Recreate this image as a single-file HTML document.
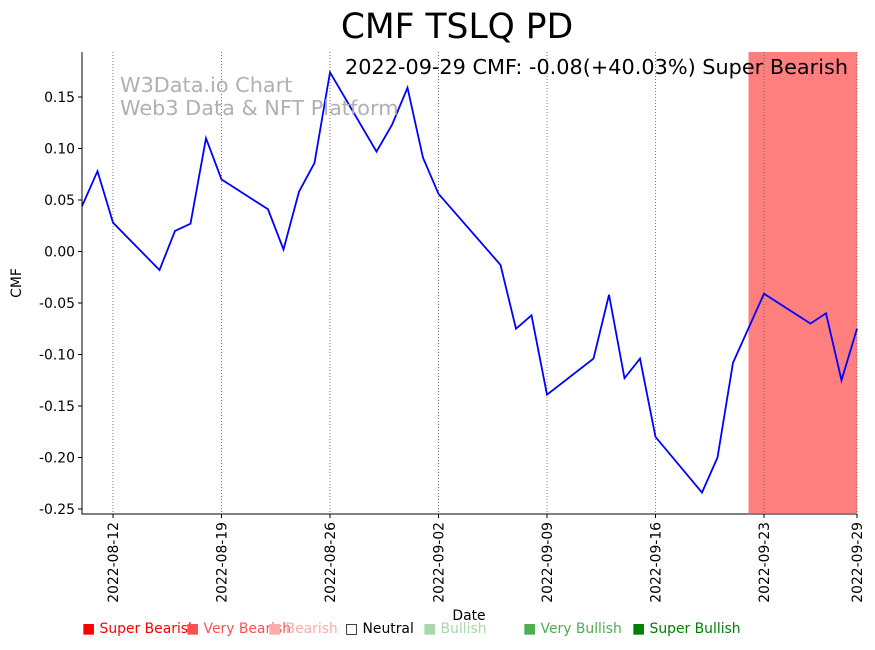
<!DOCTYPE html>
<html><head><meta charset="utf-8"><style>
body{margin:0;background:#fff;font-family:"DejaVu Sans",sans-serif}
svg text{font-family:"DejaVu Sans",sans-serif}
</style></head><body>
<svg id="chart" width="875" height="646" viewBox="0 0 875 646" xmlns="http://www.w3.org/2000/svg">
<text x="457" y="38" font-size="34.5" text-anchor="middle">CMF TSLQ PD</text>
<g id="plot"></g>
<text x="120" y="92" font-size="20.8" fill="#b0b0b0">W3Data.io Chart</text>
<text x="120" y="115" font-size="20.8" fill="#b0b0b0">Web3 Data &amp; NFT Platform</text>
<text x="848" y="74" font-size="20.8" text-anchor="end">2022-09-29 CMF: -0.08(+40.03%) Super Bearish</text>
<text x="21" y="283" font-size="13.9" text-anchor="middle" transform="rotate(-90 21 283)">CMF</text>
<text x="469" y="620" font-size="13.9" text-anchor="middle">Date</text>
<g font-size="13.9">
<text x="82" y="633" fill="#ff0000">■ Super Bearish</text>
<text x="186" y="633" fill="#ff5050">■ Very Bearish</text>
<text x="268" y="633" fill="#ffaaaa">■ Bearish</text>
<text x="345" y="633" fill="#000">□ Neutral</text>
<text x="423" y="633" fill="#a8d8a8">■ Bullish</text>
<text x="523" y="633" fill="#4caf50">■ Very Bullish</text>
<text x="632" y="633" fill="#008000">■ Super Bullish</text>
</g>
</svg>
<script>
const dates=["2022-08-10","2022-08-11","2022-08-12","2022-08-15","2022-08-16","2022-08-17","2022-08-18","2022-08-19","2022-08-22","2022-08-23","2022-08-24","2022-08-25","2022-08-26","2022-08-29","2022-08-30","2022-08-31","2022-09-01","2022-09-02","2022-09-06","2022-09-07","2022-09-08","2022-09-09","2022-09-12","2022-09-13","2022-09-14","2022-09-15","2022-09-16","2022-09-19","2022-09-20","2022-09-21","2022-09-23","2022-09-26","2022-09-27","2022-09-28","2022-09-29"];
const cmf=[0.044,0.078,0.028,-0.018,0.020,0.027,0.110,0.070,0.041,0.002,0.058,0.086,0.174,0.097,0.123,0.159,0.091,0.056,-0.013,-0.075,-0.062,-0.139,-0.104,-0.042,-0.123,-0.104,-0.180,-0.234,-0.200,-0.108,-0.041,-0.070,-0.060,-0.125,-0.075];
const xTicks=["2022-08-12","2022-08-19","2022-08-26","2022-09-02","2022-09-09","2022-09-16","2022-09-23","2022-09-29"];
const yTicks=[0.15,0.10,0.05,0.00,-0.05,-0.10,-0.15,-0.20,-0.25];
const bandStart="2022-09-22", bandEnd="2022-09-29";
const NS="http://www.w3.org/2000/svg";
const L=82,R=857,T=52,B=514;
const d0=Date.parse("2022-08-10"),d1=Date.parse("2022-09-29");
const xs=d=>L+(Date.parse(d)-d0)/(d1-d0)*(R-L);
const ys=v=>251.5-v*1030;
const g=document.getElementById('plot');
function mk(t,a){const e=document.createElementNS(NS,t);for(const k in a)e.setAttribute(k,a[k]);g.appendChild(e);return e;}
let band=mk('rect',{x:xs(bandStart),y:T,width:xs(bandEnd)-xs(bandStart),height:B-T-1,fill:'#ff7f7f'});


xTicks.forEach(t=>{const x=xs(t);
 let gl=mk('line',{x1:x,x2:x,y1:T,y2:B,stroke:'#555','stroke-dasharray':'1,2','stroke-width':0.8});
 
 
 mk('line',{x1:x,x2:x,y1:B,y2:B+4,stroke:'#000'});
 let tx=mk('text',{x:x+5,y:B+8,'font-size':13.9,'text-anchor':'end',transform:`rotate(-90 ${x+5} ${B+8})`});
 tx.textContent=t;
 
 
});
yTicks.forEach(v=>{const y=ys(v);
 mk('line',{x1:L-4,x2:L,y1:y,y2:y,stroke:'#000'});
 let tx=mk('text',{x:L-7,y:y+5,'font-size':13.9,'text-anchor':'end'});
 tx.textContent=v.toFixed(2);
 
 
});
let line=mk('polyline',{points:dates.map((d,i)=>xs(d)+','+ys(cmf[i])).join(' '),fill:'none',stroke:'#0000ff','stroke-width':1.8});


let ax=mk('path',{d:`M${L},${T} V${B} H${R}`,fill:'none',stroke:'#000','stroke-width':1});


</script>
</body></html>
